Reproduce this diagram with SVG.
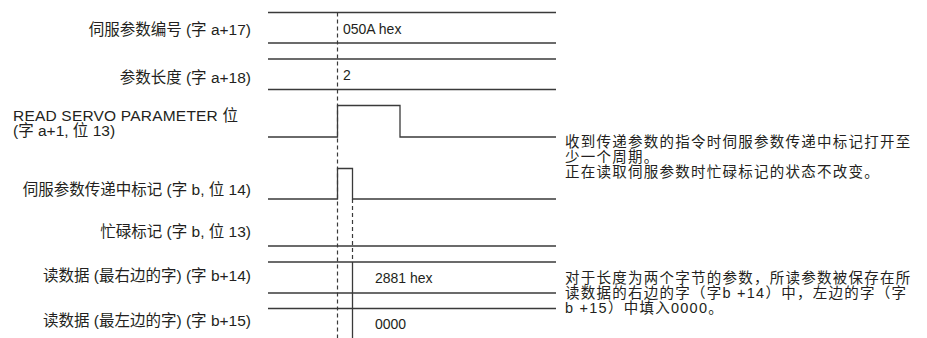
<svg xmlns="http://www.w3.org/2000/svg" width="927" height="338" viewBox="0 0 927 338">
  <style>
    .lbl { font-family: "Liberation Sans", "Noto Sans CJK SC", sans-serif; font-size: 15.5px; fill: #231f20; }
    .r { text-anchor: end; }
    .val { font-family: "Liberation Sans", "Noto Sans CJK SC", sans-serif; font-size: 14px; fill: #231f20; }
    .note { font-family: "Liberation Sans", "Noto Sans CJK SC", sans-serif; font-size: 14.5px; letter-spacing: 1.25px; fill: #231f20; }
    .ln { stroke: #3a3a3a; stroke-width: 1.3; fill: none; }
    .dash { stroke: #3a3a3a; stroke-width: 1.2; stroke-dasharray: 4 3; fill: none; }
  </style>
  <rect width="927" height="338" fill="#ffffff"/>

  <g id="servo-param-number">
    <text class="lbl r" x="251" y="35">伺服参数编号 (字 a+17)</text>
    <line class="ln" x1="268" y1="12.5" x2="556" y2="12.5"/>
    <line class="ln" x1="268" y1="43" x2="556" y2="43"/>
    <text class="val" x="343" y="33.5">050A hex</text>
  </g>

  <g id="param-length">
    <text class="lbl r" x="251" y="83">参数长度 (字 a+18)</text>
    <line class="ln" x1="268" y1="59" x2="556" y2="59"/>
    <line class="ln" x1="268" y1="89.5" x2="556" y2="89.5"/>
    <text class="val" x="343" y="80">2</text>
  </g>

  <g id="read-servo-parameter-bit">
    <text class="lbl" x="13" y="120.5" textLength="225">READ SERVO PARAMETER 位</text>
    <text class="lbl" x="13" y="136">(字 a+1, 位 13)</text>
    <polyline class="ln" points="268,137 337.5,137 337.5,105.5 400,105.5 400,137 556,137"/>
  </g>

  <g id="transfer-flag">
    <text class="lbl r" x="251" y="195">伺服参数传递中标记 (字 b, 位 14)</text>
    <polyline class="ln" points="268,199 337.5,199 337.5,168.5 352.5,168.5 352.5,199 556,199"/>
  </g>

  <g id="busy-flag">
    <text class="lbl r" x="251" y="237">忙碌标记 (字 b, 位 13)</text>
    <line class="ln" x1="268" y1="246" x2="556" y2="246"/>
  </g>

  <g id="read-data-right">
    <text class="lbl r" x="251" y="281">读数据 (最右边的字) (字 b+14)</text>
    <line class="ln" x1="268" y1="262" x2="556" y2="262"/>
    <line class="ln" x1="268" y1="293" x2="556" y2="293"/>
    <text class="val" x="375" y="283">2881 hex</text>
  </g>

  <g id="read-data-left">
    <text class="lbl r" x="251" y="326">读数据 (最左边的字) (字 b+15)</text>
    <line class="ln" x1="268" y1="308.5" x2="556" y2="308.5"/>
    <text class="val" x="375" y="329">0000</text>
  </g>

  <g id="connectors">
    <line class="dash" x1="337.5" y1="12.5" x2="337.5" y2="338"/>
    <line class="dash" x1="352.5" y1="199" x2="352.5" y2="262"/>
    <line class="ln" x1="352.5" y1="262" x2="352.5" y2="338"/>
  </g>

  <g id="note-transfer">
    <text class="note" x="565" y="147">收到传递参数的指令时伺服参数传递中标记打开至</text>
    <text class="note" x="565" y="162">少一个周期。</text>
    <text class="note" x="565" y="177">正在读取伺服参数时忙碌标记的状态不改变。</text>
  </g>

  <g id="note-read-data">
    <text class="note" x="565" y="283">对于长度为两个字节的参数，所读参数被保存在所</text>
    <text class="note" x="565" y="298">读数据的右边的字（字b +14）中，左边的字（字</text>
    <text class="note" x="565" y="313">b +15）中填入0000。</text>
  </g>
</svg>
